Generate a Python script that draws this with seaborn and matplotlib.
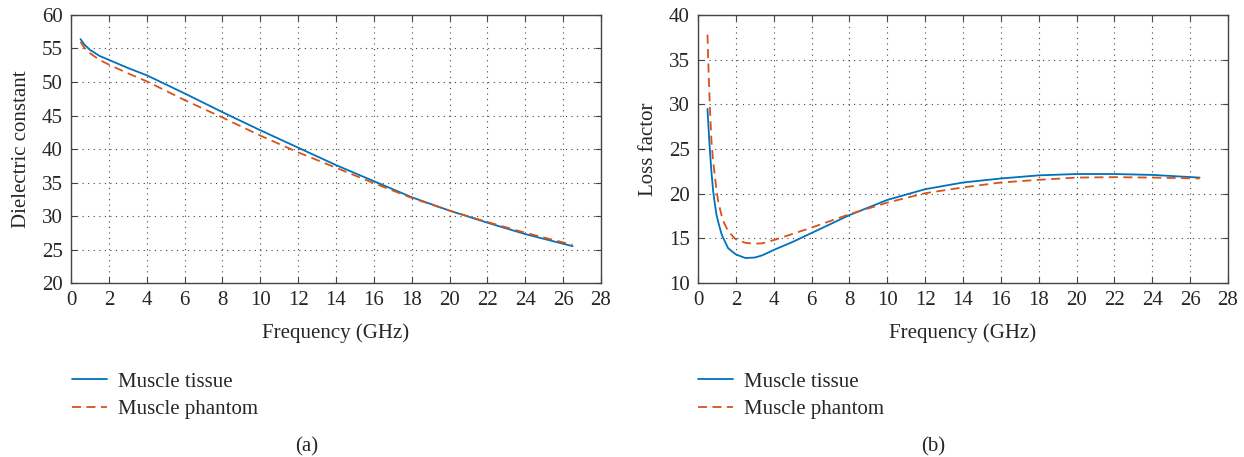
import pandas as pd
import matplotlib.pyplot as plt
import seaborn as sns

# (a) dielectric constant
freq_a = [0.5, 0.7, 1.0, 1.5, 2, 3, 4, 6, 8, 10, 12, 14, 16, 18, 20, 22, 24, 26.5]
tissue_a = [56.4, 55.6, 54.8, 53.9, 53.3, 52.1, 51.0, 48.3, 45.5, 42.8, 40.2, 37.6, 35.2, 32.8, 30.8, 29.0, 27.3, 25.5]
phantom_a = [56.0, 55.1, 54.3, 53.3, 52.6, 51.3, 50.1, 47.3, 44.7, 42.0, 39.5, 37.2, 34.9, 32.7, 30.8, 29.1, 27.5, 25.7]

# (b) loss factor
freq_b = [0.5, 0.56, 0.62, 0.71, 0.8, 0.88, 0.97, 1.06, 1.24, 1.32, 1.59, 1.94, 2.0, 2.5, 3.0, 3.4,
          4, 5, 6, 8, 10, 12, 14, 16, 18, 20, 22, 24, 26.5]
tissue_b = [29.5, 27.2, 25.1, 22.4, 20.3, 19.0, 17.7, 16.9, 15.5, 15.1, 13.9, 13.3, 13.2, 12.8, 12.85, 13.1,
            13.7, 14.6, 15.6, 17.6, 19.3, 20.5, 21.25, 21.7, 22.05, 22.2, 22.2, 22.1, 21.8]
phantom_b = [37.8, 33.7, 30.0, 25.9, 23.6, 22.2, 20.5, 19.2, 17.6, 17.0, 15.8, 15.0, 14.9, 14.5, 14.4, 14.45,
             14.8, 15.5, 16.2, 17.7, 19.0, 20.05, 20.7, 21.25, 21.55, 21.8, 21.85, 21.8, 21.7]

labels = ['Muscle tissue', 'Muscle phantom']
BLUE = "#0072BD"
RED = "#D95319"
FS = 15

sns.set_style("ticks")
plt.rcParams['font.family'] = ['Liberation Serif', 'DejaVu Serif']
plt.rcParams['font.size'] = FS

fig = plt.figure(figsize=(12.44, 4.57), dpi=100)
ax_a = fig.add_axes([0.0571, 0.3807, 0.426, 0.5865])
ax_b = fig.add_axes([0.5611, 0.3807, 0.426, 0.5865])


def draw(ax, x, y1, y2, ylim, yticks, ylabel, ylab_x):
    df = pd.DataFrame({'f': x + x, 'v': y1 + y2,
                       'kind': [labels[0]] * len(x) + [labels[1]] * len(x)})
    sns.lineplot(data=df[df.kind == labels[0]], x='f', y='v', ax=ax,
                 color=BLUE, linewidth=1.3, label=labels[0])
    sns.lineplot(data=df[df.kind == labels[1]], x='f', y='v', ax=ax,
                 color=RED, linewidth=1.3, linestyle=(0, (5, 3)), label=labels[1])
    ax.set_xlim(0, 28)
    ax.set_ylim(*ylim)
    ax.set_xticks(range(0, 29, 2))
    ax.set_yticks(yticks)
    ax.set_xlabel('Frequency (GHz)', fontsize=FS)
    ax.set_ylabel(ylabel, fontsize=FS)
    ax.xaxis.set_label_coords(0.5, -0.15)
    ax.yaxis.set_label_coords(ylab_x, 0.5)
    ax.grid(True, linestyle=(0, (1, 4)), color='#444444', linewidth=0.8)
    ax.tick_params(direction='in', top=True, right=True, length=4, color='#444444',
                   labelsize=FS, pad=6)
    for s in ax.spines.values():
        s.set_color('#444444')
        s.set_linewidth(1.0)
    ax.get_legend().remove()


draw(ax_a, freq_a, tissue_a, phantom_a, (20, 60), range(20, 61, 5), 'Dielectric constant', -0.076)
draw(ax_b, freq_b, tissue_b, phantom_b, (10, 40), range(10, 41, 5), 'Loss factor', -0.076)

for ax, xl in [(ax_a, 0.0579), (ax_b, 0.561)]:
    h, l = ax.get_legend_handles_labels()
    fig.legend(h, l, loc='upper left', bbox_to_anchor=(xl, 0.186), borderpad=0, borderaxespad=0,
               frameon=False, fontsize=FS, handlelength=1.7, handletextpad=0.5, labelspacing=0.4)

fig.text(0.2468, 0.022, '(a)', ha='center', va='center', fontsize=FS)
fig.text(0.750, 0.022, '(b)', ha='center', va='center', fontsize=FS)

fig.savefig('out.png', dpi=100)
